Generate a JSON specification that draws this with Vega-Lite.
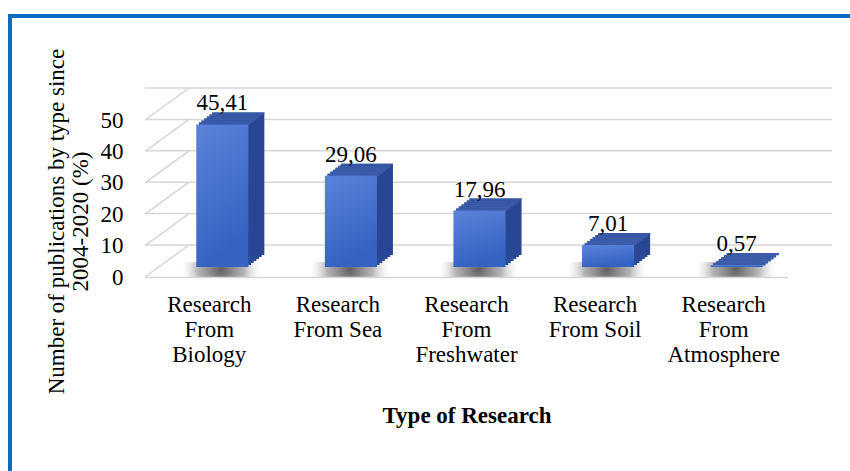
{
  "$schema": "https://vega.github.io/schema/vega-lite/v6.json",
  "width": 643,
  "height": 157,
  "autosize": "none",
  "padding": {"left": 145, "top": 120, "right": 62, "bottom": 194},
  "background": "white",
  "config": {
    "view": {"stroke": null},
    "font": "Liberation Serif, Times New Roman, serif",
    "axisY": {"tickCount": 6, "labelOverlap": false},
    "axisX": {"labelAlign": "center", "labelAngle": 0},
    "locale": {
      "number": {"decimal": ",", "thousands": ".", "grouping": [3], "currency": ["", " €"]}
    }
  },
  "datasets": {
    "research": [
      {"type": "Research From Biology", "share": 45.41},
      {"type": "Research From Sea", "share": 29.06},
      {"type": "Research From Freshwater", "share": 17.96},
      {"type": "Research From Soil", "share": 7.01},
      {"type": "Research From Atmosphere", "share": 0.57}
    ],
    "ticks": [{"v": 0}, {"v": 10}, {"v": 20}, {"v": 30}, {"v": 40}, {"v": 50}],
    "frame": [{}]
  },
  "layer": [
    {
      "data": {"name": "frame"},
      "mark": {"type": "rect", "filled": false, "stroke": "#0b6fc1", "strokeWidth": 4,
               "xOffset": -173.25, "x2Offset": 140, "yOffset": -104, "y2Offset": 220},
      "encoding": {
        "x": {"datum": "Research From Biology", "type": "nominal", "bandPosition": 0},
        "x2": {"datum": "Research From Atmosphere", "bandPosition": 1},
        "y": {"datum": 50, "type": "quantitative"},
        "y2": {"datum": 0}
      }
    },
    {
      "data": {"name": "ticks"},
      "mark": {"type": "rule", "color": "#d6d6d6", "strokeWidth": 1.5, "xOffset": 44, "x2Offset": 44, "yOffset": -32},
      "encoding": {
        "y": {
          "field": "v", "type": "quantitative",
          "scale": {"domain": [0, 50], "nice": false},
          "axis": {
            "values": [0, 10, 20, 30, 40, 50], "tickCount": 6, "labelOverlap": false,
            "labelFont": "Liberation Serif, Times New Roman, serif",
            "labelFontSize": 23, "labelColor": "black", "labelPadding": 22,
            "ticks": false, "domain": false, "grid": false,
            "title": ["Number of publications by type since", "2004-2020 (%)"],
            "titleFont": "Liberation Serif, Times New Roman, serif",
            "titleFontSize": 23, "titleFontWeight": "normal", "titleColor": "black",
            "titleLineHeight": 24, "titleAngle": -90, "titleAlign": "center",
            "titleBaseline": "alphabetic", "titleX": -82, "titleY": 101
          }
        }
      }
    },
    {
      "data": {"name": "ticks"},
      "mark": {"type": "rule", "color": "#d6d6d6", "strokeWidth": 1.5, "y2Offset": -32},
      "encoding": {
        "y": {"field": "v", "type": "quantitative"},
        "y2": {"field": "v"},
        "x": {"value": 0},
        "x2": {"value": 44}
      }
    },
    {
      "data": {"name": "research"},
      "mark": {
        "type": "bar", "width": 84, "xOffset": 16, "yOffset": -15, "y2Offset": 0,
        "color": {
          "gradient": "radial", "x1": 0.45, "y1": 0.5, "r1": 0, "x2": 0.45, "y2": 0.5, "r2": 0.5,
          "stops": [
            {"offset": 0, "color": "rgba(30,30,30,0.7)"},
            {"offset": 0.55, "color": "rgba(60,60,60,0.38)"},
            {"offset": 1, "color": "rgba(255,255,255,0)"}
          ]
        }
      },
      "encoding": {
        "x": {"field": "type", "type": "nominal", "sort": null},
        "y": {"datum": 0, "type": "quantitative"},
        "y2": {"datum": 0}
      }
    },
    {
      "data": {"name": "research"},
      "mark": {"type": "bar", "color": "#2b4c9b", "xOffset": 15.67, "yOffset": -12, "y2Offset": -12},
      "encoding": {
        "x": {"field": "type", "type": "nominal", "sort": null},
        "y": {"field": "share", "type": "quantitative"}
      }
    },
    {
      "data": {"name": "research"},
      "mark": {"type": "bar", "color": "#2b4c9b", "xOffset": 18.33, "yOffset": -14, "y2Offset": -14},
      "encoding": {
        "x": {"field": "type", "type": "nominal", "sort": null},
        "y": {"field": "share", "type": "quantitative"}
      }
    },
    {
      "data": {"name": "research"},
      "mark": {"type": "bar", "color": "#2a4a98", "xOffset": 21, "yOffset": -16, "y2Offset": -16},
      "encoding": {
        "x": {"field": "type", "type": "nominal", "sort": null},
        "y": {"field": "share", "type": "quantitative"}
      }
    },
    {
      "data": {"name": "research"},
      "mark": {"type": "bar", "color": "#2a4a98", "xOffset": 23.67, "yOffset": -18, "y2Offset": -18},
      "encoding": {
        "x": {"field": "type", "type": "nominal", "sort": null},
        "y": {"field": "share", "type": "quantitative"}
      }
    },
    {
      "data": {"name": "research"},
      "mark": {"type": "bar", "color": "#294895", "xOffset": 26.33, "yOffset": -20, "y2Offset": -20},
      "encoding": {
        "x": {"field": "type", "type": "nominal", "sort": null},
        "y": {"field": "share", "type": "quantitative"}
      }
    },
    {
      "data": {"name": "research"},
      "mark": {"type": "bar", "color": "#284693", "xOffset": 29, "yOffset": -22, "y2Offset": -22},
      "encoding": {
        "x": {"field": "type", "type": "nominal", "sort": null},
        "y": {"field": "share", "type": "quantitative"}
      }
    },
    {
      "data": {"name": "research"},
      "mark": {"type": "bar", "color": "#3b5caa", "xOffset": 15.67, "yOffset": -12, "y2Offset": -9.8},
      "encoding": {
        "x": {"field": "type", "type": "nominal", "sort": null},
        "y": {"field": "share", "type": "quantitative"},
        "y2": {"field": "share"}
      }
    },
    {
      "data": {"name": "research"},
      "mark": {"type": "bar", "color": "#3b5caa", "xOffset": 18.33, "yOffset": -14, "y2Offset": -11.8},
      "encoding": {
        "x": {"field": "type", "type": "nominal", "sort": null},
        "y": {"field": "share", "type": "quantitative"},
        "y2": {"field": "share"}
      }
    },
    {
      "data": {"name": "research"},
      "mark": {"type": "bar", "color": "#3a5ba9", "xOffset": 21, "yOffset": -16, "y2Offset": -13.8},
      "encoding": {
        "x": {"field": "type", "type": "nominal", "sort": null},
        "y": {"field": "share", "type": "quantitative"},
        "y2": {"field": "share"}
      }
    },
    {
      "data": {"name": "research"},
      "mark": {"type": "bar", "color": "#3a5aa8", "xOffset": 23.67, "yOffset": -18, "y2Offset": -15.8},
      "encoding": {
        "x": {"field": "type", "type": "nominal", "sort": null},
        "y": {"field": "share", "type": "quantitative"},
        "y2": {"field": "share"}
      }
    },
    {
      "data": {"name": "research"},
      "mark": {"type": "bar", "color": "#3959a7", "xOffset": 26.33, "yOffset": -20, "y2Offset": -17.8},
      "encoding": {
        "x": {"field": "type", "type": "nominal", "sort": null},
        "y": {"field": "share", "type": "quantitative"},
        "y2": {"field": "share"}
      }
    },
    {
      "data": {"name": "research"},
      "mark": {"type": "bar", "color": "#3858a6", "xOffset": 29, "yOffset": -22, "y2Offset": -20},
      "encoding": {
        "x": {"field": "type", "type": "nominal", "sort": null},
        "y": {"field": "share", "type": "quantitative"},
        "y2": {"field": "share"}
      }
    },
    {
      "data": {"name": "research"},
      "mark": {
        "type": "bar", "xOffset": 13, "yOffset": -10, "y2Offset": -10,
        "color": {
          "gradient": "linear", "x1": 0, "y1": 0, "x2": 0.3, "y2": 1,
          "stops": [
            {"offset": 0, "color": "#5b83da"},
            {"offset": 1, "color": "#3562c3"}
          ]
        }
      },
      "encoding": {
        "x": {
          "field": "type", "type": "nominal", "sort": null,
          "scale": {
            "domain": ["Research From Biology", "Research From Sea", "Research From Freshwater",
                       "Research From Soil", "Research From Atmosphere"],
            "paddingInner": 0.595, "paddingOuter": 0.2975
          },
          "axis": {
            "labelAngle": 0, "labelAlign": "center", "labelFontSize": 23, "labelLineHeight": 25, "labelPadding": 16,
            "labelFont": "Liberation Serif, Times New Roman, serif",
            "labelColor": "black",
            "labelExpr": "length(datum.label) < 19 ? ['Research', slice(datum.label, 9)] : split(datum.label, ' ')",
            "ticks": false, "domainColor": "#d6d6d6", "domainWidth": 1.5,
            "title": "Type of Research", "titleFontSize": 23, "titleFontWeight": "bold",
            "titleFont": "Liberation Serif, Times New Roman, serif",
            "titleColor": "black", "titlePadding": 38
          }
        },
        "y": {
          "field": "share", "type": "quantitative",
          "axis": {
            "values": [0, 10, 20, 30, 40, 50], "tickCount": 6, "labelOverlap": false,
            "labelFont": "Liberation Serif, Times New Roman, serif",
            "labelFontSize": 23, "labelColor": "black", "labelPadding": 22,
            "ticks": false, "domain": false, "grid": false,
            "title": ["Number of publications by type since", "2004-2020 (%)"],
            "titleFont": "Liberation Serif, Times New Roman, serif",
            "titleFontSize": 23, "titleFontWeight": "normal", "titleColor": "black",
            "titleLineHeight": 24, "titleAngle": -90, "titleAlign": "center",
            "titleBaseline": "alphabetic", "titleX": -82, "titleY": 101
          }
        }
      }
    },
    {
      "data": {"name": "research"},
      "mark": {"type": "text", "fontSize": 23, "color": "black", "align": "center",
               "font": "Liberation Serif, Times New Roman, serif",
               "baseline": "alphabetic", "xOffset": 13, "yOffset": -24},
      "encoding": {
        "x": {"field": "type", "type": "nominal", "sort": null},
        "y": {"field": "share", "type": "quantitative"},
        "text": {"field": "share", "type": "quantitative", "format": ".2f"}
      }
    }
  ]
}
